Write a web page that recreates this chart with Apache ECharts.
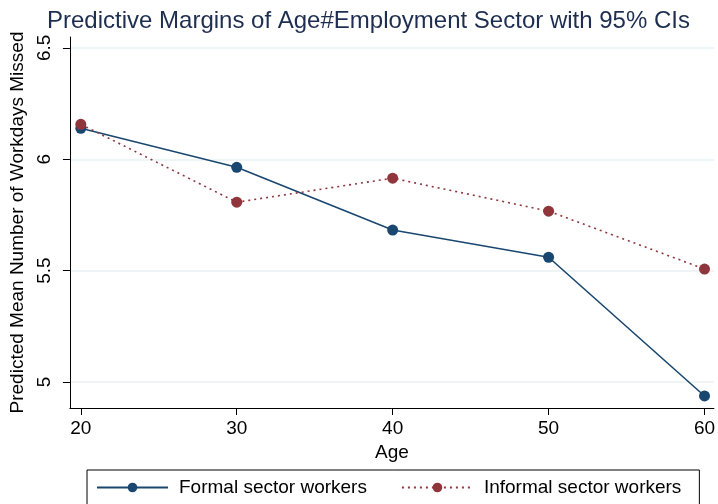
<!DOCTYPE html>
<html>
<head>
<meta charset="utf-8">
<script src="https://cdn.jsdelivr.net/npm/echarts@6/dist/echarts.min.js"></script>
<style>
  html, body { margin: 0; padding: 0; background: #fff; }
  #chart { width: 718px; height: 504px; }
</style>
</head>
<body>
<div id="chart"></div>
<script>
// Predicted mean number of missed workdays by age and employment sector
const ages = [20, 30, 40, 50, 60];
const formalValues = [6.139, 5.964, 5.682, 5.560, 4.937];
const informalValues = [6.157, 5.807, 5.915, 5.767, 5.507];
const yTicks = [5, 5.5, 6, 6.5];
const xTicks = [20, 30, 40, 50, 60];
const seriesNames = ['Formal sector workers', 'Informal sector workers'];

const font = '"Liberation Sans", Arial, sans-serif';
const navy = '#1a476f';
const maroon = '#90353b';

const chart = echarts.init(document.getElementById('chart'), null, { renderer: 'canvas' });

chart.setOption({
  animation: false,
  backgroundColor: '#ffffff',
  textStyle: { fontFamily: font },
  title: {
    text: 'Predictive Margins of Age#Employment Sector with 95% CIs',
    left: 42,
    top: 4,
    textStyle: { fontFamily: font, fontSize: 24, fontWeight: 'normal', color: '#1e2e50' }
  },
  grid: { left: 64, right: 2, top: 37, bottom: 96, containLabel: false },
  xAxis: {
    type: 'value',
    min: 19.3,
    max: 60.6,
    name: 'Age',
    nameLocation: 'middle',
    nameGap: 30,
    nameTextStyle: { fontFamily: font, fontSize: 19, color: '#000' },
    axisLine: { show: true, onZero: false, lineStyle: { color: '#000', width: 1 } },
    axisTick: { show: true, length: 7, customValues: xTicks, lineStyle: { color: '#000' } },
    axisLabel: { customValues: xTicks, fontFamily: font, fontSize: 19, color: '#000', margin: 11 },
    splitLine: { show: false }
  },
  yAxis: {
    type: 'value',
    min: 4.883,
    max: 6.549,
    name: 'Predicted Mean Number of Workdays Missed',
    nameLocation: 'middle',
    nameGap: 38,
    nameRotate: 90,
    nameTextStyle: { fontFamily: font, fontSize: 19, color: '#000' },
    axisLine: { show: true, onZero: false, lineStyle: { color: '#000', width: 1 } },
    axisTick: { show: true, length: 7, customValues: yTicks, lineStyle: { color: '#000' } },
    axisLabel: { customValues: yTicks, rotate: 90, fontFamily: font, fontSize: 19, color: '#000', margin: 16 },
    splitLine: { show: true, lineStyle: { color: '#eaf2f3', width: 1.5 } }
  },
  legend: {
    data: seriesNames,
    left: 87,
    top: 470,
    padding: [8, 18, 8, 9],
    itemGap: 34,
    itemWidth: 71,
    itemHeight: 12,
    borderColor: '#000',
    borderWidth: 1,
    borderRadius: 0,
    textStyle: { fontFamily: font, fontSize: 19, color: '#000', padding: [0, 0, 0, 6] }
  },
  series: [
    {
      name: seriesNames[0],
      type: 'line',
      data: ages.map((a, i) => [a, formalValues[i]]),
      symbol: 'circle',
      symbolSize: 11,
      lineStyle: { color: navy, width: 1.6, type: 'solid' },
      itemStyle: { color: navy },
      z: 3
    },
    {
      name: seriesNames[1],
      type: 'line',
      data: ages.map((a, i) => [a, informalValues[i]]),
      symbol: 'circle',
      symbolSize: 11,
      lineStyle: { color: maroon, width: 1.6, type: [2, 4] },
      itemStyle: { color: maroon },
      z: 4
    }
  ]
});
</script>
</body>
</html>
